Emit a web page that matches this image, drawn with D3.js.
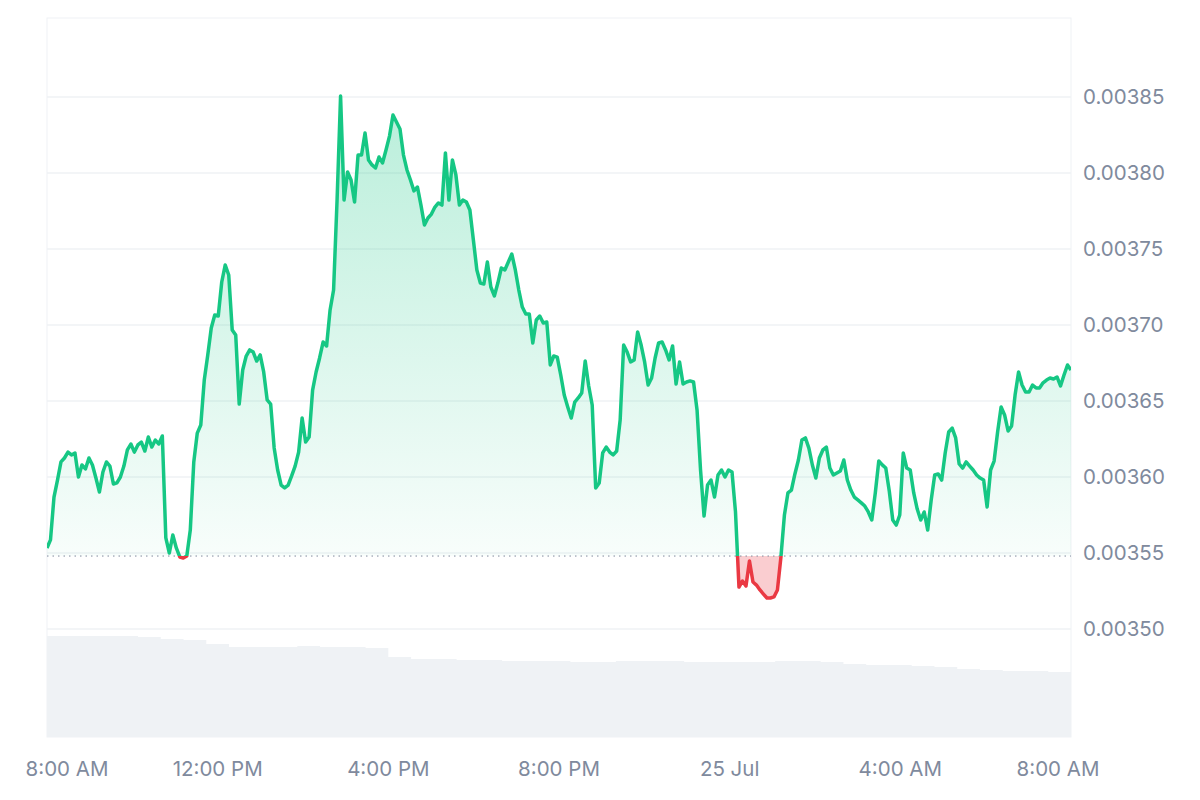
<!DOCTYPE html>
<html>
<head>
<meta charset="utf-8">
<script src="https://cdn.jsdelivr.net/npm/d3@7"></script>
<style>
  body { margin: 0; background: #fff; font-family: Inter, "Noto Sans", sans-serif; }
</style>
</head>
<body>
<svg id="chart" width="1200" height="800"></svg>
<script>
// price in units of 1e-5, sampled evenly over 24h
const price = [
  355.33,355.86,358.68,359.8,360.99,361.25,361.64,361.45,361.58,360.0,360.79,360.53,361.25,360.79,359.93,359.01,360.33,360.99,360.72,
  359.54,359.61,360.0,360.72,361.78,362.17,361.64,362.11,362.3,361.71,362.63,361.97,362.43,362.17,362.7,355.99,355.0,356.18,355.33,
  354.74,354.67,354.8,356.51,360.99,362.89,363.42,366.38,368.03,369.8,370.66,370.59,372.83,373.95,373.29,369.67,369.34,364.8,367.04,
  367.96,368.36,368.22,367.63,368.03,366.91,365.07,364.8,361.91,360.46,359.47,359.28,359.47,360.07,360.72,361.64,363.88,362.3,362.63,
  365.72,366.91,367.83,368.88,368.62,370.99,372.3,378.22,385.07,378.22,380.07,379.54,378.09,381.18,381.18,382.63,380.86,380.53,380.33,381.05,
  380.66,381.51,382.43,383.82,383.36,382.89,381.18,380.2,379.54,378.82,379.08,377.89,376.58,377.04,377.3,377.76,378.03,377.89,381.32,378.22,
  380.86,379.87,377.89,378.22,378.09,377.57,375.59,373.62,372.76,372.7,374.14,372.5,371.91,372.76,373.75,373.62,374.14,374.67,373.62,372.3,
  371.18,370.72,370.72,368.82,370.33,370.59,370.13,370.2,367.37,367.96,367.89,366.71,365.39,364.61,363.88,364.93,365.2,365.53,367.63,365.99,
  364.74,359.28,359.61,361.58,361.97,361.64,361.45,361.71,363.75,368.68,368.22,367.57,367.7,369.54,368.68,367.57,366.05,366.51,367.83,368.82,
  368.88,368.36,367.7,368.62,366.12,367.57,366.12,366.25,366.32,366.25,364.41,360.46,357.43,359.47,359.8,358.68,360.13,360.46,360.0,360.46,
  360.33,357.7,352.76,353.16,352.83,354.47,353.09,352.89,352.57,352.3,352.04,352.04,352.11,352.57,354.74,357.5,358.95,359.14,360.2,361.12,362.43,
  362.57,361.9,360.79,359.93,361.25,361.78,361.97,360.59,360.13,360.26,360.39,361.12,359.8,359.14,358.68,358.49,358.3,358.09,357.7,357.17,358.95,361.05,
  360.8,360.59,359.08,357.17,356.84,357.5,361.58,360.59,360.46,358.95,357.89,357.17,357.7,356.51,358.49,360.13,360.2,359.8,361.58,362.96,363.22,
  362.57,360.86,360.59,360.99,360.72,360.46,360.13,359.93,359.8,358.03,360.46,361.05,362.96,364.61,364.08,363.03,363.36,365.39,366.91,366.05,
  365.59,365.59,366.05,365.86,365.86,366.2,366.38,366.51,366.45,366.58,365.99,366.71,367.37,367.04
];
const baseline = 354.8;
// volume, arbitrary units, sampled evenly over 24h
const volume = [10.1,10.1,10.1,10.1,10.0,9.8,9.7,9.3,9.0,9.0,9.0,9.1,9.0,9.0,8.9,8.0,7.8,7.8,7.7,7.7,7.6,7.6,7.6,7.5,7.5,7.6,7.6,7.6,7.5,7.5,7.5,7.5,7.6,7.6,7.5,7.3,7.2,7.2,7.1,7.0,6.8,6.7,6.6,6.6,6.5,6.5];
const yTicks = [350, 355, 360, 365, 370, 375, 380, 385];
const xTickLabels = ["8:00 AM", "12:00 PM", "4:00 PM", "8:00 PM", "25 Jul", "4:00 AM", "8:00 AM"];

const start = new Date(2024, 6, 24, 8, 0);
const end = new Date(2024, 6, 25, 8, 0);
const span = end - start;
const pts = price.map((v, i) => ({ t: new Date(+start + i * span / (price.length - 1)), v }));
const vol = volume.map((v, i) => ({ t: new Date(+start + i * span / (volume.length - 1)), v }));

const plotL = 47, plotR = 1071, plotT = 18, plotB = 737;
const svg = d3.select('#chart');

const x = d3.scaleTime().domain([start, end]).range([plotL, plotR]);
const y = d3.scaleLinear().domain([350, 385]).range([629, 97]);
const yVol = d3.scaleLinear().domain([0, 10.1]).range([plotB, 636]);

const defs = svg.append('defs');
const grad = defs.append('linearGradient').attr('id', 'gGreen')
  .attr('gradientUnits', 'userSpaceOnUse')
  .attr('x1', 0).attr('x2', 0).attr('y1', y(385)).attr('y2', y(baseline));
grad.append('stop').attr('offset', 0).attr('stop-color', '#16c784').attr('stop-opacity', 0.3);
grad.append('stop').attr('offset', 1).attr('stop-color', '#16c784').attr('stop-opacity', 0.03);

defs.append('clipPath').attr('id', 'above').append('rect')
  .attr('x', plotL).attr('y', plotT).attr('width', plotR - plotL).attr('height', y(baseline) - plotT);
defs.append('clipPath').attr('id', 'below').append('rect')
  .attr('x', plotL).attr('y', y(baseline)).attr('width', plotR - plotL).attr('height', plotB - y(baseline));

// frame
svg.append('rect').attr('x', plotL).attr('y', plotT).attr('width', plotR - plotL).attr('height', plotB - plotT)
  .attr('fill', 'none').attr('stroke', '#eff2f5');

// gridlines
svg.append('g').selectAll('line').data(yTicks).join('line')
  .attr('x1', plotL).attr('x2', plotR).attr('y1', d => y(d)).attr('y2', d => y(d))
  .attr('stroke', '#eff2f5').attr('stroke-width', 1.5);

// volume
svg.append('path').datum(vol)
  .attr('d', d3.area().x(d => x(d.t)).y0(plotB).y1(d => yVol(d.v)).curve(d3.curveStepAfter))
  .attr('fill', '#eff2f5');

// price areas
const area = d3.area().x(d => x(d.t)).y0(y(baseline)).y1(d => y(d.v));
svg.append('path').datum(pts).attr('d', area).attr('fill', 'url(#gGreen)').attr('clip-path', 'url(#above)');
svg.append('path').datum(pts).attr('d', area).attr('fill', 'rgba(234,57,67,0.25)').attr('clip-path', 'url(#below)');

// baseline
svg.append('line').attr('x1', plotL).attr('x2', plotR).attr('y1', y(baseline)).attr('y2', y(baseline))
  .attr('stroke', '#808a9d').attr('stroke-width', 1).attr('stroke-dasharray', '1.5,4');

// price lines
const line = d3.line().x(d => x(d.t)).y(d => y(d.v));
svg.append('path').datum(pts).attr('d', line).attr('fill', 'none').attr('stroke', '#16c784')
  .attr('stroke-width', 3.5).attr('stroke-linejoin', 'round').attr('clip-path', 'url(#above)');
svg.append('path').datum(pts).attr('d', line).attr('fill', 'none').attr('stroke', '#ea3943')
  .attr('stroke-width', 3.5).attr('stroke-linejoin', 'round').attr('clip-path', 'url(#below)');

// y labels
svg.append('g').selectAll('text').data(yTicks).join('text')
  .attr('x', 1083).attr('y', d => y(d)).attr('dy', '0.35em')
  .attr('fill', '#808a9d').attr('font-size', 20.5)
  .text(d => (d / 1e5).toFixed(5));

// x labels
const xTicks = x.ticks(d3.timeHour.every(4));
svg.append('g').selectAll('text').data(xTicks).join('text')
  .attr('x', d => Math.max(67, Math.min(1058, x(d))))
  .attr('y', 776).attr('text-anchor', 'middle')
  .attr('fill', '#808a9d').attr('font-size', 20.5)
  .text((d, i) => xTickLabels[i]);
</script>
</body>
</html>
